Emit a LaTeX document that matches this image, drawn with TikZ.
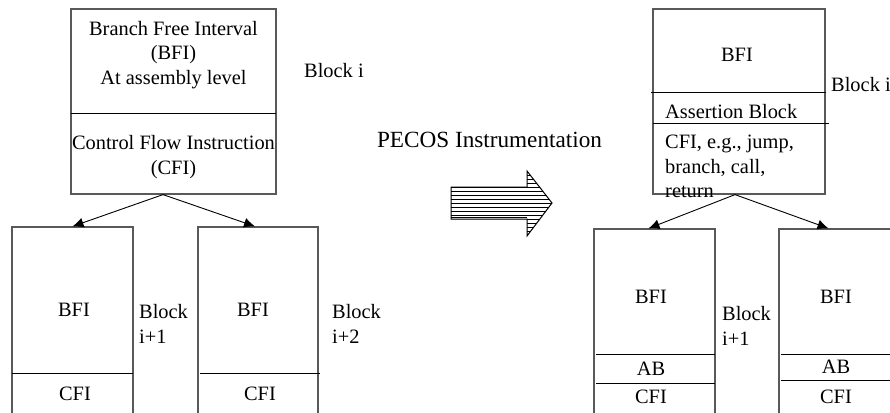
\documentclass[tikz,border=0pt]{standalone}
\usepackage{fontspec}
\setmainfont{Liberation Serif}
\usetikzlibrary{arrows.meta,calc}
\tikzset{
  boxshape/.style={draw=black!65, line width=1.2pt, rectangle, inner sep=0pt},
  divider/.style={draw=black, line width=0.9pt},
  lbl/.style={inner sep=0pt, font=\fontsize{20.4}{24.5}\selectfont},
  flow/.style={draw=black, line width=0.9pt, -{Latex[length=11pt,width=10pt]}},
  bigarrow/.style={draw=black, line width=1pt}
}
\begin{document}
\begin{tikzpicture}[x=1pt,y=-1pt]
\clip (0,0) rectangle (890,412);
\fill[white] (0,0) rectangle (890,412);

% ---------- left: original block i ----------
\node[boxshape, minimum width=205pt, minimum height=185pt] (tl) at (173.5,101.5) {};
\draw[divider] (71,113) -- (276,113);
\node[lbl, align=center] (tlbfi) at (173.5,55) {Branch Free Interval\\(BFI)\\At assembly level};
\node[lbl, align=center] (tlcfi) at (173.5,157) {Control Flow Instruction\\(CFI)};
\node[lbl, anchor=west] (tlblk) at (304,71) {Block i};

% lower-left blocks
\node[boxshape, minimum width=121pt, minimum height=220pt] (b1) at (72.5,337) {};
\draw[divider] (12,373) -- (133,373);
\node[lbl] (b1bfi) at (74,310) {BFI};
\node[lbl] (b1cfi) at (75,394) {CFI};
\node[lbl, align=left, anchor=west] (b1blk) at (139,324) {Block\\i+1};

\node[boxshape, minimum width=120pt, minimum height=220pt] (b2) at (258,337) {};
\draw[divider] (200,373) -- (320,373);
\node[lbl] (b2bfi) at (253,310) {BFI};
\node[lbl] (b2cfi) at (260,394) {CFI};
\node[lbl, align=left, anchor=west] (b2blk) at (332,324) {Block\\i+2};

\coordinate (tlout) at ($(tl.south)+(-10.5,0)$);
\draw[flow] (tlout) -- (b1.north);
\draw[flow] (tlout) -- ($(b2.north)+(-3,0)$);

% ---------- middle: instrumentation arrow ----------
\node[inner sep=0pt, font=\fontsize{23.2}{27}\selectfont] (pecos) at (489.5,140) {PECOS Instrumentation};
\begin{scope}
  \clip (451,187) -- (527,187) -- (527,171) -- (552,203) -- (527,236) -- (527,219) -- (451,219) -- cycle;
  \foreach \yy in {171,175,...,239} {
    \draw[black, line width=0.7pt] (450,\yy) -- (553,\yy);
  }
\end{scope}
\draw[bigarrow] (451,187) -- (527,187) -- (527,171) -- (552,203) -- (527,236) -- (527,219) -- (451,219) -- cycle;
\draw[black, line width=1pt] (451,217.5) -- (527,217.5);

% ---------- right: instrumented block i ----------
\node[boxshape, minimum width=172pt, minimum height=185pt] (tr) at (739,101.5) {};
\draw[divider] (651,92) -- (826,92);
\draw[divider] (653,123) -- (829,123);
\node[lbl] (trbfi) at (737,55) {BFI};
\node[lbl, anchor=west] (trab) at (665,112) {Assertion Block};
\node[lbl, align=left, anchor=west] (trcfi) at (665,166.5) {CFI, e.g., jump,\\branch, call,\\return};
\node[lbl, anchor=west] (trblk) at (831,85) {Block i};

\node[boxshape, minimum width=121pt, minimum height=220pt] (b3) at (654.5,339) {};
\draw[divider] (596,354) -- (715,354);
\draw[divider] (596,383) -- (715,383);
\node[lbl] (b3bfi) at (651,297) {BFI};
\node[lbl] (b3ab) at (651,369) {AB};
\node[lbl] (b3cfi) at (651,397) {CFI};
\node[lbl, align=left, anchor=west] (b3blk) at (722,326) {Block\\i+1};

\node[boxshape, minimum width=121pt, minimum height=220pt] (b4) at (839.5,339) {};
\draw[divider] (781,354) -- (900,354);
\draw[divider] (781,380) -- (900,380);
\node[lbl] (b4bfi) at (836,297) {BFI};
\node[lbl] (b4ab) at (836,367) {AB};
\node[lbl] (b4cfi) at (836,397) {CFI};

\coordinate (trout) at ($(tr.south)+(-4,0)$);
\draw[flow] (trout) -- ($(b3.north)+(-6,0)$);
\draw[flow] (trout) -- ($(b4.north)+(-11,0)$);
\end{tikzpicture}
\end{document}
